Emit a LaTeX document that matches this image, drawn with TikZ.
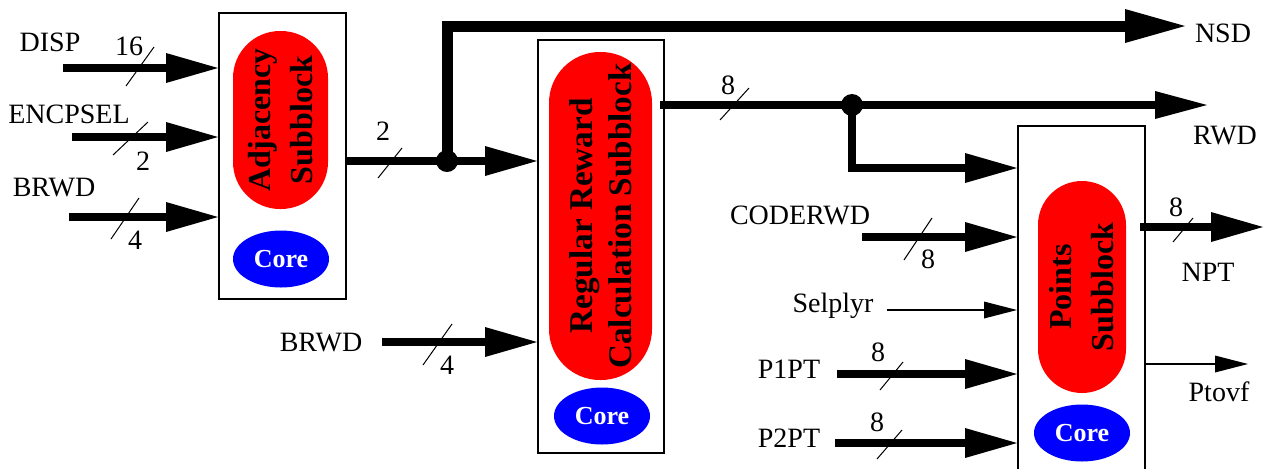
\documentclass[tikz,border=0pt]{standalone}
\usepackage{fontspec}
\setmainfont{Liberation Serif}
\usetikzlibrary{arrows.meta,shapes.geometric}

\tikzset{
  block/.style={draw,line width=1pt,inner sep=0pt},
  subblock/.style={fill=red,inner sep=0pt,align=center,rotate=90,
    font=\fontsize{16}{21}\selectfont\bfseries},
  core/.style={ellipse,fill=blue,text=white,inner sep=0pt,
    minimum width=48pt,minimum height=28.5pt,font=\fontsize{13}{15}\selectfont\bfseries},
  bus/.style={line width=4pt,-{Triangle[length=26pt,width=15pt,line width=0pt]}},
  nsdbus/.style={line width=5.5pt,-{Triangle[length=30pt,width=17pt,line width=0pt]}},
  wire/.style={line width=0.8pt,-{Triangle[length=16.5pt,width=8.5pt,line width=0pt]}},
  tick/.style={line width=0.5pt},
  lbl/.style={font=\fontsize{14}{16}\selectfont,inner sep=0pt},
}

\begin{document}
\begin{tikzpicture}[x=0.5pt,y=-0.5pt]
    \clip (0,0) rectangle (1264,468); % picture frame
    % Adjacency block
    \node [block,minimum width=63.5pt,minimum height=143pt] (adjbox) at (282.5,156) {};
    \node [subblock,rounded corners=23.5pt,minimum width=89pt,minimum height=47.5pt]
          (adj) at (280.5,120) {Adjacency\\Subblock};
    \node [core] (adjcore) at (281,259) {Core};
    % Regular reward block
    \node [block,minimum width=63pt,minimum height=206.5pt] (rrcbox) at (601,246.5) {};
    \node [subblock,rounded corners=25.5pt,minimum width=164pt,minimum height=51.5pt,
           font=\fontsize{16.6}{19.5}\selectfont\bfseries]
          (rrc) at (600.5,216) {Regular Reward\\Calculation Subblock};
    \node [core] (rrccore) at (602,416) {Core};
    % Points block
    \node [block,minimum width=63.5pt,minimum height=180pt] (ptsbox) at (1081.5,306) {};
    \node [subblock,rounded corners=22pt,minimum width=106pt,minimum height=44pt]
          (pts) at (1082,287) {Points\\Subblock};
    \node [core] (ptscore) at (1082,433) {Core};

    % inputs of the adjacency block
    \coordinate (dispIn) at (63,68);
    \coordinate (encIn) at (72,137);
    \coordinate (brwdIn) at (69,217);
    \node [lbl] (disp) at (50,42) {DISP};
    \node [lbl] (encpsel) at (69,114) {ENCPSEL};
    \node [lbl] (brwd) at (54,188) {BRWD};
    \draw [bus] (dispIn) -- (dispIn -| adjbox.west); % DISP
    \draw [bus] (encIn) -- (encIn -| adjbox.west); % ENCPSEL
    \draw [bus] (brwdIn) -- (brwdIn -| adjbox.west); % BRWD
    \draw [tick] (126,86) -- (154,47);
    \node [lbl] (dispw) at (129,46) {16};
    \draw [tick] (113,155) -- (148,122);
    \node [lbl] (encw) at (143,161) {2};
    \draw [tick] (111,239) -- (139,198);
    \node [lbl] (brwdw) at (135,240) {4};

    % adjacency output, split to NSD
    \coordinate (j1) at (447,161);
    \coordinate (nsdEnd) at (1185,26);
    \draw [bus] (adjbox.east |- j1) -- (j1 -| rrcbox.west);
    \draw [nsdbus] (j1) |- (nsdEnd); % NSD
    \fill (j1) circle (5.5pt);
    \node [lbl] (nsd) at (1223,33) {NSD};
    \draw [tick] (378,178) -- (402,148);
    \node [lbl] (adjw) at (383,131) {2};

    % second BRWD input
    \coordinate (brwdIn2) at (382,342);
    \node [lbl] (brwd2) at (321,343) {BRWD};
    \draw [bus] (brwdIn2) -- (brwdIn2 -| rrcbox.west);
    \draw [tick] (423,365) -- (452,324);
    \node [lbl] (brwdw2) at (447,365) {4};

    % reward output, split to points block
    \coordinate (rrcOut) at (660,105);
    \coordinate (j2) at (852,105);
    \coordinate (rwdEnd) at (1207,105);
    \coordinate (fbk) at (0,168);
    \draw [bus,-{Triangle[length=26pt,width=14pt,line width=0pt]}] (rrcOut) -- (rwdEnd); % RWD
    \draw [bus] (j2) |- (fbk -| ptsbox.west);
    \fill (j2) circle (5.5pt);
    \node [lbl] (rwd) at (1225,136) {RWD};
    \draw [tick] (720,120) -- (749,88);
    \node [lbl] (rrcw) at (728,85) {8};

    % inputs of the points block
    \coordinate (codeIn) at (862,237);
    \coordinate (selIn) at (887,310);
    \coordinate (p1In) at (837,374);
    \coordinate (p2In) at (835,443);
    \node [lbl] (coderwd) at (800,215) {CODERWD};
    \node [lbl] (selplyr) at (833,306) {Selplyr};
    \node [lbl] (p1pt) at (789,369) {P1PT};
    \node [lbl] (p2pt) at (789,438) {P2PT};
    \draw [bus] (codeIn) -- (codeIn -| ptsbox.west); % CODERWD
    \draw [wire] (selIn) -- (selIn -| ptsbox.west); % Selplyr
    \draw [bus] (p1In) -- (p1In -| ptsbox.west); % P1PT
    \draw [bus] (p2In) -- (p2In -| ptsbox.west); % P2PT
    \draw [tick] (904,260) -- (932,218);
    \node [lbl] (codew) at (928,259) {8};
    \draw [tick] (880,390) -- (903,362);
    \node [lbl] (p1w) at (878,352) {8};
    \draw [tick] (877,459) -- (902,430);
    \node [lbl] (p2w) at (877,422) {8};

    % outputs of the points block
    \coordinate (nptOut) at (1140,227);
    \coordinate (nptEnd) at (1263,227);
    \coordinate (ptovfEnd) at (1248,364);
    \draw [bus] (nptOut) -- (nptEnd); % NPT
    \draw [wire] (ptsbox.east |- ptovfEnd) -- (ptovfEnd); % Ptovf
    \draw [tick] (1173,242) -- (1193,218);
    \node [lbl] (nptw) at (1176,207) {8};
    \node [lbl] (npt) at (1208,272) {NPT};
    \node [lbl] (ptovf) at (1219,392) {Ptovf};
  \end{tikzpicture}
\end{document}
